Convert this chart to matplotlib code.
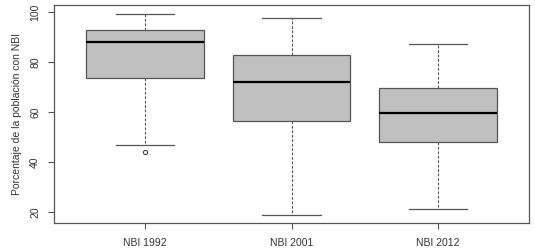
import matplotlib
matplotlib.use("Agg")
import matplotlib.pyplot as plt

plt.rcParams['font.family'] = ['Liberation Sans', 'DejaVu Sans']

labels = ["NBI 1992", "NBI 2001", "NBI 2012"]
whislo = [46.8, 18.7, 21.1]
q1 = [73.7, 56.5, 48.0]
med = [88.1, 72.1, 59.7]
q3 = [92.8, 82.8, 69.5]
whishi = [99.3, 97.5, 87.3]
fliers = [[44.0], [], []]
yticks = [20, 40, 60, 80, 100]

stats = []
for i in range(3):
    stats.append(dict(label=labels[i], whislo=whislo[i], q1=q1[i], med=med[i],
                      q3=q3[i], whishi=whishi[i], fliers=fliers[i]))

fig = plt.figure(figsize=(5.35, 2.52), dpi=100)
ax = fig.add_axes([54/535, 1-223/252, 475/535, 218/252])

ax.bxp(stats, positions=[1, 2, 3], widths=0.8, patch_artist=True,
       boxprops=dict(facecolor='#c0c0c0', edgecolor='#555555', linewidth=0.9),
       medianprops=dict(color='black', linewidth=1.6),
       whiskerprops=dict(color='#555555', linestyle=(0, (2.5, 1.5)), linewidth=0.8),
       capprops=dict(color='#555555', linewidth=0.9),
       capwidths=0.4,
       flierprops=dict(marker='o', markersize=3, markerfacecolor='none',
                       markeredgecolor='#333333', markeredgewidth=0.7))

ax.set_xlim(0.38, 3.62)
ax.set_ylim(15.6, 102.8)
ax.set_yticks(yticks)
ax.set_yticklabels([str(t) for t in yticks], rotation=90, va='center')
ax.set_xticks([1, 2, 3])
ax.set_xticklabels(labels)
ax.tick_params(direction='out', length=4, width=0.8, colors='#555555',
               labelcolor='#333333', labelsize=7.5, pad=6)
ax.tick_params(axis='x', pad=7)
for s in ax.spines.values():
    s.set_color('#555555')
    s.set_linewidth(0.9)
ax.set_ylabel("Porcentaje de la población con NBI", fontsize=7.5, color='#333333', labelpad=6)

fig.savefig("out.png", dpi=100)
